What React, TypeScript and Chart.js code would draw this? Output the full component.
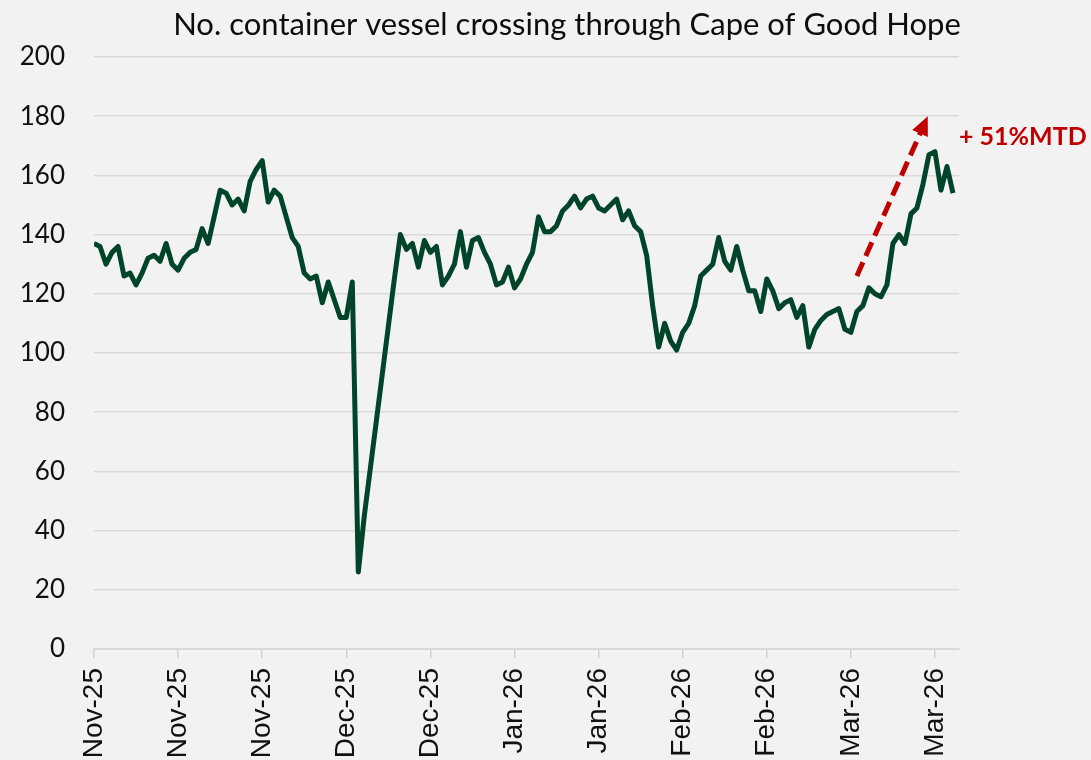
import React, { useEffect, useRef } from "react";
import { Chart, registerables } from "chart.js";

Chart.register(...registerables);

const TITLE = "No. container vessel crossing through Cape of Good Hope";
const TICK_LABELS = ["Nov-25", "Nov-25", "Nov-25", "Dec-25", "Dec-25", "Jan-26", "Jan-26", "Feb-26", "Feb-26", "Mar-26", "Mar-26"];
const TICK_STEP_DAYS = 14;
const AXIS_DAYS = 144;
const Y_TICKS_STEP = 20;

// daily count of container vessels crossing the Cape of Good Hope
const VESSELS = [
  137, 136, 130, 134, 136, 126, 127, 123, 127, 132,
  133, 131, 137, 130, 128, 132, 134, 135, 142, 137,
  146, 155, 154, 150, 152, 148, 158, 162, 165, 151,
  155, 153, 146, 139, 136, 127, 125, 126, 117, 124,
  118, 112, 112, 124, 26, 45, 61, 77, 93, 109,
  125, 140, 135, 137, 129, 138, 134, 136, 123, 126,
  130, 141, 129, 138, 139, 134, 130, 123, 124, 129,
  122, 125, 130, 134, 146, 141, 141, 143, 148, 150,
  153, 149, 152, 153, 149, 148, 150, 152, 145, 148,
  143, 141, 133, 116, 102, 110, 104, 101, 107, 110,
  116, 126, 128, 130, 139, 131, 128, 136, 128, 121,
  121, 114, 125, 121, 115, 117, 118, 112, 116, 102,
  108, 111, 113, 114, 115, 108, 107, 114, 116, 122,
  120, 119, 123, 137, 140, 137, 147, 149, 157, 167,
  168, 155, 163, 154,
];

const ARROW_FROM = { x: 127, y: 126 };
const ARROW_TO = { x: 138.8, y: 180 };
const NOTE_TEXT = "+ 51%MTD";
const NOTE_AT = { x: 144, y: 173 };

const BG = "#f2f2f2";
const LINE_COLOR = "#00452a";
const RED = "#c00000";

const bgPlugin = {
  id: "bg",
  beforeDraw(chart: any) {
    const ctx = chart.ctx;
    ctx.save();
    ctx.fillStyle = BG;
    ctx.fillRect(0, 0, chart.width, chart.height);
    ctx.restore();
  },
};

const titlePlugin = {
  id: "customTitle",
  afterDraw(chart: any) {
    const ctx = chart.ctx;
    ctx.save();
    ctx.font = "31px Lato";
    ctx.fillStyle = "#0d0d0d";
    ctx.textAlign = "center";
    ctx.textBaseline = "middle";
    ctx.fillText(TITLE, 567, 25);
    ctx.restore();
  },
};

const annotationPlugin = {
  id: "arrowNote",
  afterDatasetsDraw(chart: any) {
    const ctx = chart.ctx;
    const xs = chart.scales.x;
    const ys = chart.scales.y;
    const x1 = xs.getPixelForValue(ARROW_FROM.x);
    const y1 = ys.getPixelForValue(ARROW_FROM.y);
    const x2 = xs.getPixelForValue(ARROW_TO.x);
    const y2 = ys.getPixelForValue(ARROW_TO.y);
    const ang = Math.atan2(y2 - y1, x2 - x1);
    const headLen = 19;
    const headW = 17;
    const bx = x2 - headLen * Math.cos(ang);
    const by = y2 - headLen * Math.sin(ang);
    ctx.save();
    ctx.strokeStyle = RED;
    ctx.fillStyle = RED;
    ctx.lineWidth = 5;
    ctx.lineCap = "butt";
    ctx.setLineDash([15, 7]);
    ctx.beginPath();
    ctx.moveTo(x1, y1);
    ctx.lineTo(bx + 2 * Math.cos(ang), by + 2 * Math.sin(ang));
    ctx.stroke();
    ctx.setLineDash([]);
    const px = -Math.sin(ang) * headW / 2;
    const py = Math.cos(ang) * headW / 2;
    ctx.beginPath();
    ctx.moveTo(x2, y2);
    ctx.lineTo(bx + px, by + py);
    ctx.lineTo(bx - px, by - py);
    ctx.closePath();
    ctx.fill();

    ctx.font = "bold 25px Lato";
    ctx.textAlign = "left";
    ctx.textBaseline = "middle";
    ctx.fillText(NOTE_TEXT, xs.getPixelForValue(NOTE_AT.x), ys.getPixelForValue(NOTE_AT.y));
    ctx.restore();
  },
};

export default function App() {
  const ref = useRef<HTMLCanvasElement>(null);

  useEffect(() => {
    if (!ref.current) return;
    const chart = new Chart(ref.current, {
      type: "line",
      data: {
        datasets: [
          {
            label: "Vessels",
            data: VESSELS.map((v, i) => ({ x: i, y: v })),
            borderColor: LINE_COLOR,
            backgroundColor: LINE_COLOR,
            borderWidth: 5,
            borderJoinStyle: "round",
            borderCapStyle: "butt",
            pointRadius: 0,
            tension: 0,
            fill: false,
          },
        ],
      },
      options: {
        responsive: true,
        maintainAspectRatio: false,
        animation: false,
        devicePixelRatio: 1,
        layout: { padding: { top: 57, right: 132, left: 0, bottom: 0 } },
        plugins: {
          legend: { display: false },
          title: { display: false },
          tooltip: { enabled: false },
        },
        scales: {
          x: {
            type: "linear",
            min: 0,
            max: AXIS_DAYS,
            afterBuildTicks: (s: any) => {
              s.ticks = TICK_LABELS.map((_, k) => ({ value: k * TICK_STEP_DAYS }));
            },
            afterFit: (s: any) => {
              s.height = 141;
            },
            ticks: {
              autoSkip: false,
              maxRotation: 90,
              minRotation: 90,
              padding: 10,
              color: "#111",
              font: { family: "Liberation Sans", size: 28 },
              callback: (v: any) => TICK_LABELS[Math.round(Number(v) / TICK_STEP_DAYS)],
            },
            grid: {
              drawOnChartArea: false,
              drawTicks: true,
              tickLength: 9,
              color: "#d0d0d0",
              lineWidth: 1.5,
            },
            border: { display: true, color: "#d9d9d9", width: 2 },
          },
          y: {
            min: 0,
            max: 200,
            afterFit: (s: any) => {
              s.width = 94;
            },
            ticks: {
              stepSize: Y_TICKS_STEP,
              padding: 29,
              color: "#111",
              font: { family: "Lato", size: 26 },
            },
            grid: { color: "#d9d9d9", lineWidth: 1.5, drawTicks: false },
            border: { display: false },
          },
        },
      },
      plugins: [bgPlugin, titlePlugin, annotationPlugin],
    });
    return () => chart.destroy();
  }, []);

  return (
    <div
      style={{
        position: "absolute",
        left: 0,
        top: 0,
        width: 1091,
        height: 760,
        overflow: "hidden",
        background: BG,
      }}
    >
      <div style={{ position: "relative", width: 1091, height: 790 }}>
        <canvas ref={ref} />
      </div>
    </div>
  );
}
